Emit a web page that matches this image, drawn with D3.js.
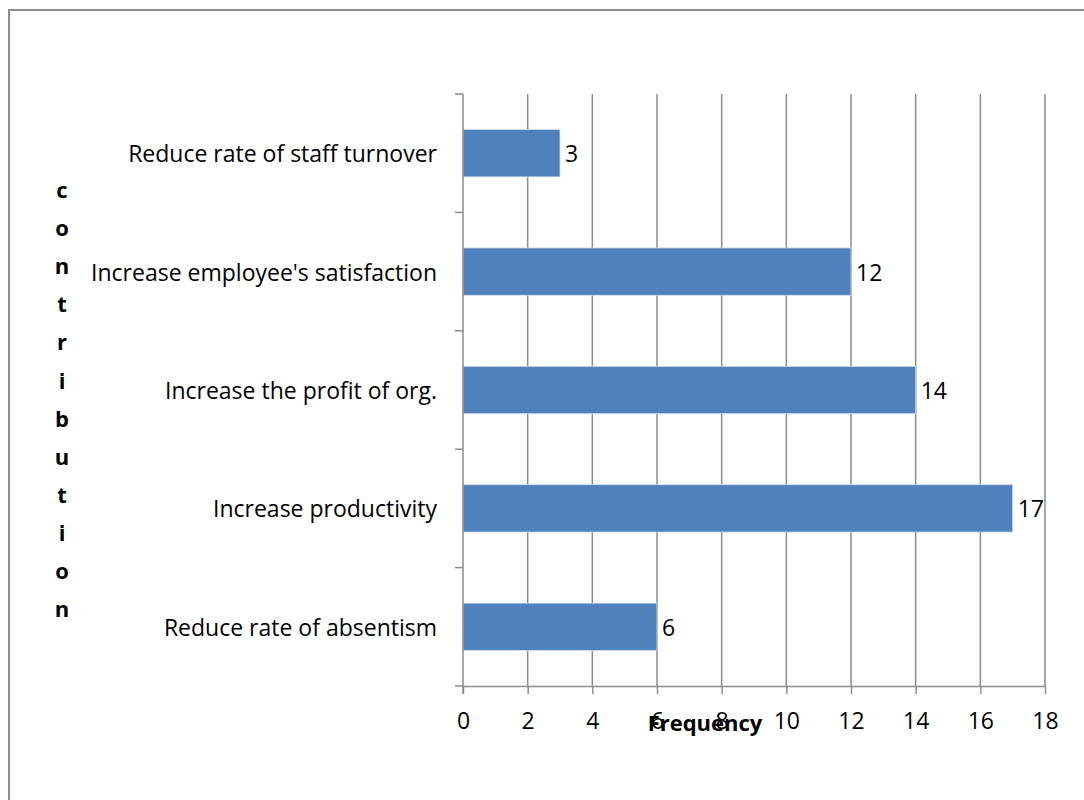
<!DOCTYPE html>
<html>
<head>
<meta charset="utf-8">
<script src="https://cdn.jsdelivr.net/npm/d3@7"></script>
<style>
  html, body { margin: 0; padding: 0; background: #fff; }
  svg { display: block; }
  text { font-family: "Open Sans", "Noto Sans", sans-serif; fill: #000; }
</style>
</head>
<body>
<svg id="chart" width="1084" height="800"></svg>
<script>
// Categories, listed top to bottom
const categories = [
  "Reduce rate of staff turnover",
  "Increase employee's satisfaction",
  "Increase the profit of org.",
  "Increase productivity",
  "Reduce rate of absentism"
];
// Frequency for each category
const frequencies = [3, 12, 14, 17, 6];
// Axis tick values
const xTicks = [0, 2, 4, 6, 8, 10, 12, 14, 16, 18];
const yTitle = "contribution";
const xTitle = "Frequency";

const svg = d3.select("#chart");
const W = 1084, H = 800;
const margin = { left: 463, right: W - 1045, top: 94, bottom: H - 686 };
const fontSize = 23;

// Outer chart frame
svg.append("rect")
  .attr("x", 9).attr("y", 10)
  .attr("width", W + 20).attr("height", H + 20)
  .attr("fill", "none").attr("stroke", "#8c8c8c").attr("stroke-width", 2);

const x = d3.scaleLinear().domain([0, 18]).range([margin.left, W - margin.right]);
const y = d3.scaleBand().domain(categories).range([margin.top, H - margin.bottom])
  .paddingInner(0.6).paddingOuter(0.3);

const gridColor = "#8c8c8c";

// Vertical gridlines
svg.append("g").selectAll("line").data(xTicks.slice(1)).join("line")
  .attr("x1", d => x(d)).attr("x2", d => x(d))
  .attr("y1", margin.top).attr("y2", H - margin.bottom)
  .attr("stroke", gridColor).attr("stroke-width", 1.5);

// Bars
svg.append("g").selectAll("rect").data(categories).join("rect")
  .attr("x", x(0))
  .attr("y", d => y(d))
  .attr("width", (d, i) => x(frequencies[i]) - x(0))
  .attr("height", y.bandwidth())
  .attr("fill", "#4f81bd")
  .attr("stroke", "#d4deec").attr("stroke-width", 0.8);

// X axis
const xAxis = svg.append("g")
  .attr("transform", `translate(0,${H - margin.bottom})`)
  .call(d3.axisBottom(x).tickValues(xTicks).tickSize(8).tickPadding(19).tickSizeOuter(0));
xAxis.select(".domain").attr("stroke", gridColor).attr("stroke-width", 1.5);
xAxis.selectAll(".tick line").attr("stroke", gridColor).attr("stroke-width", 1.5);
xAxis.selectAll(".tick text").attr("font-size", fontSize)
  .attr("font-family", '"Open Sans", sans-serif').attr("fill", "#000");

// Y axis line with ticks on the category boundaries
const yAxisG = svg.append("g");
yAxisG.append("line")
  .attr("x1", x(0)).attr("x2", x(0))
  .attr("y1", margin.top).attr("y2", H - margin.bottom + 8)
  .attr("stroke", gridColor).attr("stroke-width", 1.5);
const boundaries = d3.range(categories.length + 1)
  .map(i => margin.top + i * y.step());
yAxisG.selectAll("line.tk").data(boundaries).join("line").attr("class", "tk")
  .attr("x1", x(0) - 8).attr("x2", x(0))
  .attr("y1", d => d).attr("y2", d => d)
  .attr("stroke", gridColor).attr("stroke-width", 1.5);

// Category labels
svg.append("g").selectAll("text").data(categories).join("text")
  .attr("x", x(0) - 26)
  .attr("y", d => y(d) + y.bandwidth() / 2)
  .attr("text-anchor", "end").attr("dominant-baseline", "central")
  .attr("font-size", fontSize)
  .text(d => d);

// Value labels at bar ends
svg.append("g").selectAll("text").data(frequencies).join("text")
  .attr("x", d => x(d) + 5)
  .attr("y", (d, i) => y(categories[i]) + y.bandwidth() / 2)
  .attr("dominant-baseline", "central")
  .attr("font-size", fontSize)
  .text(d => d);

// Axis titles
svg.append("text")
  .attr("x", 705).attr("y", 722)
  .attr("text-anchor", "middle").attr("dominant-baseline", "central")
  .attr("font-size", 22).attr("font-weight", "bold")
  .text(xTitle);

svg.append("g").selectAll("text").data(yTitle.split("")).join("text")
  .attr("x", 62)
  .attr("y", (d, i) => 189 + i * 38.1)
  .attr("text-anchor", "middle").attr("dominant-baseline", "central")
  .attr("font-size", 22).attr("font-weight", "bold")
  .text(d => d);
</script>
</body>
</html>
